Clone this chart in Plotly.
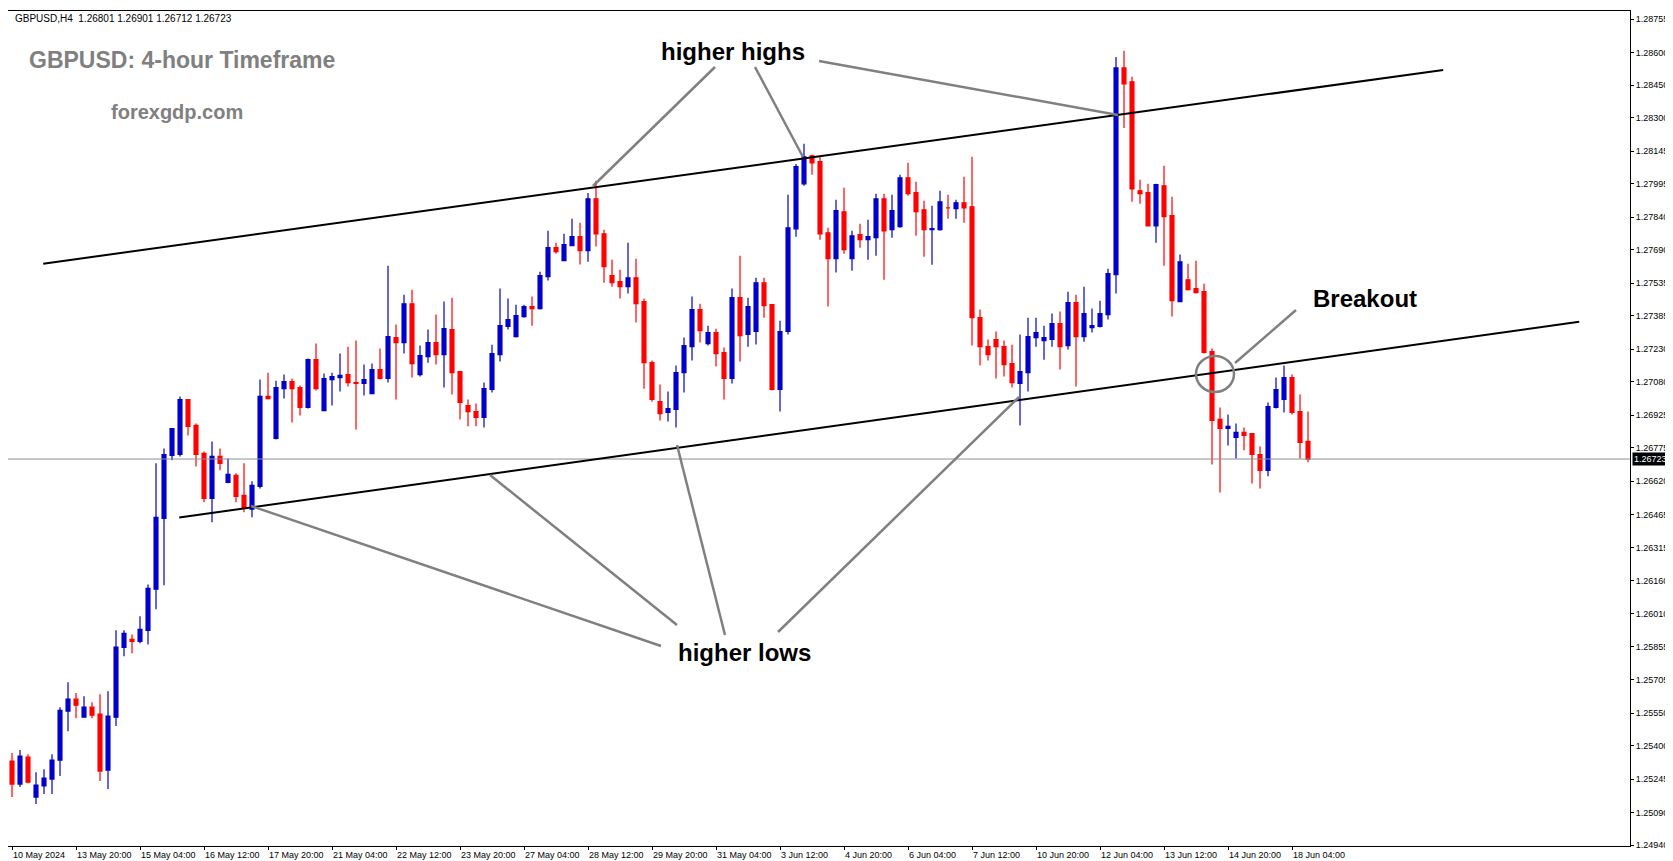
import plotly.graph_objects as go

# GBPUSD H4 candles
opens = [1.25328, 1.25222, 1.25346, 1.25162, 1.25213, 1.25245, 1.25333, 1.25559, 1.25614, 1.25531,
         1.25577, 1.25545, 1.25286, 1.25531, 1.25853, 1.25890, 1.25881, 1.25932, 1.26122, 1.26449,
         1.26740, 1.26744, 1.26998, 1.26878, 1.26749, 1.26541, 1.26735, 1.26615, 1.26648, 1.26555,
         1.26491, 1.26597, 1.27012, 1.26818, 1.27048, 1.27081, 1.27053, 1.26961, 1.27182, 1.26947,
         1.27090, 1.27099, 1.27113, 1.27076, 1.27072, 1.27025, 1.27136, 1.27095, 1.27284, 1.27261,
         1.27440, 1.27113, 1.27196, 1.27261, 1.27205, 1.27321, 1.27127, 1.26970, 1.26942, 1.26915,
         1.27044, 1.27205, 1.27335, 1.27288, 1.27381, 1.27427, 1.27418, 1.27565, 1.27699, 1.27639,
         1.27708, 1.27750, 1.27685, 1.27925, 1.27763, 1.27570, 1.27542, 1.27519, 1.27560, 1.27450,
         1.27168, 1.26988, 1.26938, 1.26952, 1.27122, 1.27242, 1.27413, 1.27256, 1.27307, 1.27215,
         1.27095, 1.27468, 1.27298, 1.27312, 1.27537, 1.27436, 1.27044, 1.27312, 1.27786, 1.27994,
         1.28123, 1.28096, 1.27768, 1.27648, 1.27865, 1.27648, 1.27759, 1.27736, 1.27745, 1.27925,
         1.27782, 1.27796, 1.28022, 1.27953, 1.27874, 1.27782, 1.27782, 1.27883, 1.27879, 1.27906,
         1.27888, 1.27376, 1.27242, 1.27275, 1.27242, 1.27164, 1.27072, 1.27122, 1.27284, 1.27270,
         1.27275, 1.27348, 1.27247, 1.27445, 1.27288, 1.27330, 1.27335, 1.27390, 1.27574, 1.28529,
         1.28465, 1.27962, 1.27953, 1.27800, 1.27985, 1.27847, 1.27450, 1.27551, 1.27510, 1.27496,
         1.27219, 1.26906, 1.26864, 1.26823, 1.26846, 1.26841, 1.26744, 1.26671, 1.26961, 1.26998,
         1.27099, 1.26942, 1.26805]
highs = [1.25365, 1.25379, 1.25360, 1.25277, 1.25291, 1.25360, 1.25577, 1.25692, 1.25642, 1.25628,
         1.25600, 1.25637, 1.25651, 1.25932, 1.25932, 1.25913, 1.25997, 1.26144, 1.26703, 1.26772,
         1.26864, 1.27012, 1.26998, 1.26887, 1.26758, 1.26804, 1.26772, 1.26726, 1.26657, 1.26703,
         1.26620, 1.27090, 1.27122, 1.27085, 1.27113, 1.27095, 1.27062, 1.27187, 1.27256, 1.27118,
         1.27122, 1.27210, 1.27242, 1.27270, 1.27159, 1.27164, 1.27233, 1.27616, 1.27344, 1.27482,
         1.27505, 1.27247, 1.27321, 1.27390, 1.27450, 1.27468, 1.27127, 1.26998, 1.26979, 1.27076,
         1.27251, 1.27510, 1.27464, 1.27436, 1.27436, 1.27473, 1.27588, 1.27777, 1.27722, 1.27763,
         1.27833, 1.27814, 1.27952, 1.28008, 1.27782, 1.27643, 1.27597, 1.27722, 1.27648, 1.27464,
         1.27178, 1.27067, 1.27035, 1.27155, 1.27284, 1.27473, 1.27440, 1.27339, 1.27325, 1.27238,
         1.27510, 1.27662, 1.27468, 1.27560, 1.27560, 1.27436, 1.27362, 1.27943, 1.28086, 1.28179,
         1.28128, 1.28119, 1.27791, 1.27920, 1.27976, 1.27777, 1.27809, 1.27828, 1.27948, 1.27948,
         1.27943, 1.28036, 1.28091, 1.28003, 1.27916, 1.27893, 1.27962, 1.27943, 1.27920, 1.28026,
         1.28119, 1.27413, 1.27275, 1.27312, 1.27270, 1.27251, 1.27298, 1.27376, 1.27376, 1.27339,
         1.27395, 1.27404, 1.27496, 1.27482, 1.27519, 1.27418, 1.27454, 1.27602, 1.28580, 1.28608,
         1.28488, 1.28013, 1.27994, 1.27994, 1.28077, 1.27934, 1.27667, 1.27625, 1.27639, 1.27533,
         1.27233, 1.26961, 1.26929, 1.26887, 1.26869, 1.26841, 1.26781, 1.26984, 1.27099, 1.27155,
         1.27113, 1.27021, 1.26942]
lows = [1.25162, 1.25208, 1.25226, 1.25130, 1.25176, 1.25176, 1.25259, 1.25466, 1.25526, 1.25531,
        1.25526, 1.25236, 1.25199, 1.25490, 1.25812, 1.25826, 1.25872, 1.25867, 1.26029, 1.26140,
        1.26717, 1.26735, 1.26832, 1.26689, 1.26523, 1.26431, 1.26671, 1.26611, 1.26523, 1.26477,
        1.26454, 1.26587, 1.26998, 1.26813, 1.27002, 1.26892, 1.26924, 1.26956, 1.27039, 1.26947,
        1.26970, 1.27035, 1.27058, 1.26859, 1.27016, 1.27025, 1.27090, 1.27076, 1.26998, 1.27210,
        1.27099, 1.27104, 1.27168, 1.27159, 1.27053, 1.27021, 1.26906, 1.26874, 1.26874, 1.26869,
        1.27030, 1.27173, 1.27321, 1.27284, 1.27376, 1.27339, 1.27413, 1.27547, 1.27671, 1.27639,
        1.27708, 1.27621, 1.27634, 1.27704, 1.27537, 1.27519, 1.27464, 1.27487, 1.27353, 1.27048,
        1.26988, 1.26901, 1.26896, 1.26869, 1.27030, 1.27178, 1.27261, 1.27247, 1.27150, 1.26998,
        1.27072, 1.27173, 1.27242, 1.27252, 1.27376, 1.27039, 1.26942, 1.27298, 1.27750, 1.27985,
        1.28036, 1.27736, 1.27427, 1.27584, 1.27671, 1.27593, 1.27699, 1.27643, 1.27662, 1.27551,
        1.27745, 1.27791, 1.27939, 1.27754, 1.27657, 1.27620, 1.27777, 1.27833, 1.27833, 1.27814,
        1.27247, 1.27155, 1.27178, 1.27095, 1.27104, 1.27053, 1.26878, 1.27035, 1.27242, 1.27182,
        1.27242, 1.27136, 1.27229, 1.27058, 1.27265, 1.27307, 1.27330, 1.27367, 1.27487, 1.28252,
        1.27911, 1.27902, 1.27800, 1.27722, 1.27616, 1.27381, 1.27450, 1.27501, 1.27487, 1.27210,
        1.26698, 1.26569, 1.26786, 1.26726, 1.26763, 1.26610, 1.26587, 1.26643, 1.26956, 1.26938,
        1.26929, 1.26726, 1.26708]
closes = [1.25222, 1.25351, 1.25231, 1.25217, 1.25249, 1.25333, 1.25563, 1.25614, 1.25586, 1.25577,
          1.25540, 1.25282, 1.25536, 1.25854, 1.25918, 1.25881, 1.25937, 1.26126, 1.26454, 1.26744,
          1.26864, 1.26998, 1.26874, 1.26744, 1.26541, 1.26735, 1.26703, 1.26652, 1.26551, 1.26500,
          1.26601, 1.27012, 1.27002, 1.27053, 1.27081, 1.27048, 1.26961, 1.27182, 1.27048, 1.27095,
          1.27104, 1.27109, 1.27076, 1.27072, 1.27090, 1.27136, 1.27095, 1.27288, 1.27261, 1.27440,
          1.27164, 1.27201, 1.27261, 1.27205, 1.27325, 1.27122, 1.26984, 1.26942, 1.26915, 1.27048,
          1.27210, 1.27339, 1.27367, 1.27385, 1.27427, 1.27418, 1.27570, 1.27699, 1.27681, 1.27713,
          1.27750, 1.27685, 1.27925, 1.27763, 1.27611, 1.27537, 1.27519, 1.27560, 1.27440, 1.27168,
          1.26998, 1.26933, 1.26956, 1.27122, 1.27247, 1.27413, 1.27316, 1.27307, 1.27210, 1.27095,
          1.27468, 1.27293, 1.27427, 1.27537, 1.27431, 1.27044, 1.27312, 1.27791, 1.28073, 1.28119,
          1.28091, 1.27763, 1.27648, 1.27870, 1.27690, 1.27754, 1.27736, 1.27750, 1.27925, 1.27777,
          1.27870, 1.28022, 1.27948, 1.27865, 1.27782, 1.27787, 1.27911, 1.27883, 1.27906, 1.27883,
          1.27376, 1.27242, 1.27205, 1.27242, 1.27159, 1.27076, 1.27127, 1.27288, 1.27307, 1.27284,
          1.27348, 1.27242, 1.27445, 1.27288, 1.27395, 1.27339, 1.27395, 1.27579, 1.28529, 1.28455,
          1.27971, 1.27948, 1.27800, 1.27990, 1.27842, 1.27454, 1.27634, 1.27505, 1.27491, 1.27215,
          1.26901, 1.26864, 1.26874, 1.26846, 1.26832, 1.26744, 1.26671, 1.26965, 1.27044, 1.27099,
          1.26938, 1.26800, 1.26723]

date_labels = ["10 May 2024", "13 May 20:00", "15 May 04:00", "16 May 12:00", "17 May 20:00",
               "21 May 04:00", "22 May 12:00", "23 May 20:00", "27 May 04:00", "28 May 12:00",
               "29 May 20:00", "31 May 04:00", "3 Jun 12:00", "4 Jun 20:00", "6 Jun 04:00",
               "7 Jun 12:00", "10 Jun 20:00", "12 Jun 04:00", "13 Jun 12:00", "14 Jun 20:00",
               "18 Jun 04:00"]
price_labels = [1.28755, 1.28600, 1.28450, 1.28300, 1.28145, 1.27995, 1.27840, 1.27690, 1.27535,
                1.27385, 1.27230, 1.27080, 1.26925, 1.26775, 1.26620, 1.26465, 1.26315, 1.26160,
                1.26010, 1.25855, 1.25705, 1.25550, 1.25400, 1.25245, 1.25090, 1.24940]
last_price = 1.26723

# channel lines: (bar index, price) at both ends
upper_line = [(3.9, 1.27625), (178.9, 1.28520)]
lower_line = [(20.9, 1.26453), (195.9, 1.27357)]

bars = list(range(len(closes)))

W, H = 1673, 861
L, R, T, B = 0, 51, 3, 23
pw, ph = W - L - R, H - T - B

def px(x):
    return (x - L) / pw

def py(y):
    return (H - B - y) / ph

fig = go.Figure(go.Candlestick(
    x=bars, open=opens, high=highs, low=lows, close=closes,
    increasing=dict(line=dict(color="#0000CD", width=1.2), fillcolor="#0000CD"),
    decreasing=dict(line=dict(color="#FF0000", width=1.2), fillcolor="#FF0000"),
    whiskerwidth=0, showlegend=False, hoverinfo="x+y"))

fig.add_hline(y=last_price, line=dict(color="#8a8f98", width=1))

for ln in (upper_line, lower_line):
    fig.add_shape(type="line", x0=ln[0][0], y0=ln[0][1], x1=ln[1][0], y1=ln[1][1],
                  line=dict(color="black", width=2))

# grey pointer lines in pixel coordinates
pointers = [((707, 59), (585, 178)), ((747, 59), (795, 149)), ((811, 53), (1110, 107)),
            ((653, 638), (243, 498)), ((669, 617), (482, 467)), ((717, 627), (669, 437)),
            ((770, 624), (1011, 389)), ((1288, 302), (1227, 355))]
for (a, b) in pointers:
    fig.add_shape(type="line", xref="paper", yref="paper", x0=px(a[0]), y0=py(a[1]),
                  x1=px(b[0]), y1=py(b[1]), line=dict(color="#808080", width=2.5))
fig.add_shape(type="circle", xref="paper", yref="paper", x0=px(1188), y0=py(348),
              x1=px(1226), y1=py(384), line=dict(color="#808080", width=2.5))

def note(text, x, y, size, color="black", anchor="center"):
    fig.add_annotation(text=text, xref="paper", yref="paper", x=px(x), y=py(y), showarrow=False,
                       xanchor=anchor, yanchor="middle",
                       font=dict(family="Liberation Sans, Arial", size=size, color=color))

note("<b>higher highs</b>", 725, 43, 24)
note("<b>higher lows</b>", 736, 644, 24)
note("<b>Breakout</b>", 1357, 290, 24)
note("<b>GBPUSD: 4-hour Timeframe</b>", 19, 52, 23, "#808080", "left")
note("<b>forexgdp.com</b>", 101, 104, 20, "#808080", "left")
note("GBPUSD,H4  1.26801 1.26901 1.26712 1.26723", 5, 10, 10, "black", "left")

fig.add_annotation(text="1.26723", x=1, xref="paper", y=last_price, yref="y", xanchor="left",
                   xshift=2, showarrow=False, bgcolor="black", borderpad=1,
                   font=dict(family="Liberation Sans, Arial", size=9, color="white"))

fig.update_xaxes(range=[-0.5, (pw - 4) / 8], tickvals=bars[::8], ticktext=date_labels,
                 tickangle=0, ticks="outside", ticklen=3, tickcolor="black",
                 ticklabelposition="outside right",
                 showgrid=False, showline=True, linecolor="black", mirror=True,
                 rangeslider_visible=False, zeroline=False,
                 tickfont=dict(family="Liberation Sans, Arial", size=9, color="black"))
fig.update_yaxes(range=[1.24936, 1.28792], side="right", tickvals=price_labels,
                 ticktext=[f"{v:.5f}" for v in price_labels], ticks="outside", ticklen=3,
                 tickcolor="black", showgrid=False, showline=True, linecolor="black", mirror=True,
                 zeroline=False, tickfont=dict(family="Liberation Sans, Arial", size=9, color="black"))
fig.update_layout(width=W, height=H, margin=dict(l=L, r=R, t=T, b=B),
                  plot_bgcolor="white", paper_bgcolor="white")
fig.write_html("out.html")
